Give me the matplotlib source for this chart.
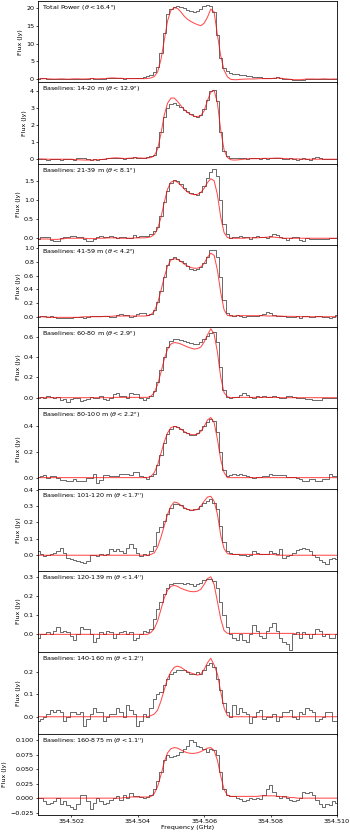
import numpy as np
import matplotlib
matplotlib.use("Agg")
import matplotlib.pyplot as plt
from matplotlib.ticker import MultipleLocator, ScalarFormatter

# Channel frequencies (GHz)
freq_start = 354.501
chan_width = 0.0001
n_chan = 91

labels = [
    r"Total Power ($\theta < 16.4^{\prime\prime}$)",
    r"Baselines: 14-20 m ($\theta < 12.9^{\prime\prime}$)",
    r"Baselines: 21-39 m ($\theta < 8.1^{\prime\prime}$)",
    r"Baselines: 41-59 m ($\theta < 4.2^{\prime\prime}$)",
    r"Baselines: 60-80 m ($\theta < 2.9^{\prime\prime}$)",
    r"Baselines: 80-100 m ($\theta < 2.2^{\prime\prime}$)",
    r"Baselines: 101-120 m ($\theta < 1.7^{\prime\prime}$)",
    r"Baselines: 120-139 m ($\theta < 1.4^{\prime\prime}$)",
    r"Baselines: 140-160 m ($\theta < 1.2^{\prime\prime}$)",
    r"Baselines: 160-875 m ($\theta < 1.1^{\prime\prime}$)",
]

tp_obs = [0.1, 0.2, 0.3, 0.1, 0.0, -0.1, 0.0, 0.1, 0.0, -0.1,
          0.0, 0.1, 0.0, -0.1, 0.0, 0.1, 0.2, 0.1, 0.0, 0.1,
          0.1, 0.2, 0.3, 0.4, 0.3, 0.2, 0.1, 0.2, 0.3, 0.2,
          0.3, 0.4, 0.6, 0.8, 1.2, 2.0, 3.5, 7.5, 13.0, 18.5,
          19.8, 20.5, 20.8, 20.5, 20.0, 19.6, 19.2, 19.0, 19.2, 19.8,
          20.6, 21.0, 20.6, 19.0, 12.5, 6.0, 3.0, 2.2, 1.8, 1.5,
          1.3, 1.1, 1.0, 0.9, 0.8, 0.7, 0.6, 0.5, 0.4, 0.3,
          0.3, 0.4, 0.5, 0.3, 0.1, 0.0, -0.1, -0.2, -0.3, -0.2,
          -0.3, -0.1, 0.0, 0.1, 0.0, -0.1, 0.0, 0.1, 0.0, -0.1, 0.0]
tp_mod = [0.0, 0.05, 0.1, 0.05, 0.0, -0.05, 0.0, 0.05, 0.0, -0.05,
          0.0, 0.05, 0.05, 0.0, 0.0, 0.05, 0.1, 0.1, 0.05, 0.1,
          0.1, 0.2, 0.3, 0.3, 0.2, 0.2, 0.1, 0.1, 0.1, 0.1,
          0.1, 0.1, 0.1, 0.15, 0.3, 0.7, 2.0, 5.5, 11.0, 16.5,
          19.5, 20.2, 20.0, 19.0, 17.8, 16.9, 16.3, 15.8, 15.4, 15.1,
          15.8, 17.5, 19.8, 19.0, 12.5, 6.5, 2.5, 0.6, -0.1, -0.2,
          -0.2, -0.1, -0.05, 0.0, 0.0, 0.0, 0.05, 0.1, 0.1, 0.1,
          0.1, 0.2, 0.3, 0.2, 0.1, 0.0, -0.1, -0.2, -0.2, -0.2,
          -0.1, 0.0, 0.0, 0.0, -0.05, 0.0, 0.05, 0.0, -0.05, 0.0, 0.0]

b14_obs = [0.0, 0.02, 0.0, -0.02, 0.0, 0.03, 0.0, -0.03, 0.02, 0.03,
           0.0, -0.02, 0.05, 0.08, 0.05, 0.0, -0.03, 0.0, -0.02, 0.0,
           0.03, 0.05, 0.08, 0.1, 0.07, 0.05, 0.03, 0.08, 0.1, 0.12,
           0.1, 0.08, 0.1, 0.15, 0.2, 0.25, 0.7, 1.6, 2.5, 3.0,
           3.25, 3.3, 3.2, 3.05, 2.9, 2.75, 2.65, 2.55, 2.5, 2.6,
           2.95, 3.5, 4.0, 4.05, 3.4, 1.6, 0.5, 0.2, 0.1, 0.08,
           0.05, 0.08, 0.05, 0.03, 0.05, 0.08, 0.05, 0.03, 0.05, 0.02,
           0.05, 0.08, 0.1, 0.05, 0.0, 0.03, 0.05, 0.0, -0.02, 0.03,
           0.05, 0.03, -0.05, 0.08, 0.12, 0.05, 0.0, 0.02, 0.03, 0.0, 0.02]
b14_mod = [0.02, 0.02, 0.01, 0.0, 0.0, 0.0, 0.0, 0.0, 0.0, 0.0,
           0.0, -0.02, -0.03, -0.04, -0.05, -0.05, -0.05, -0.04, -0.03, -0.02,
           0.0, 0.03, 0.06, 0.08, 0.08, 0.06, 0.04, 0.05, 0.07, 0.08,
           0.08, 0.07, 0.06, 0.07, 0.1, 0.2, 0.6, 1.5, 2.6, 3.3,
           3.6, 3.6, 3.4, 3.15, 2.92, 2.75, 2.62, 2.53, 2.5, 2.56,
           2.85, 3.45, 3.95, 4.05, 3.3, 1.7, 0.55, 0.1, -0.03, -0.05,
           -0.04, -0.02, 0.0, 0.02, 0.03, 0.03, 0.03, 0.04, 0.05, 0.05,
           0.05, 0.06, 0.07, 0.06, 0.04, 0.03, 0.02, 0.02, 0.02, 0.01,
           0.0, 0.0, 0.0, 0.0, 0.0, 0.0, 0.0, 0.0, 0.0, 0.0, 0.0]

b21_obs = [-0.02, 0.03, 0.04, 0.04, -0.04, -0.06, -0.08, 0.01, 0.03, 0.04,
           0.05, 0.05, 0.04, 0.04, -0.03, -0.06, -0.08, -0.03, 0.02, 0.05,
           0.03, 0.04, 0.05, 0.03, 0.0, 0.02, 0.03, 0.0, 0.01, 0.08,
           0.04, 0.05, 0.07, 0.06, 0.1, 0.18, 0.3, 0.6, 0.95, 1.25,
           1.45, 1.53, 1.5, 1.42, 1.33, 1.26, 1.2, 1.16, 1.15, 1.22,
           1.38, 1.58, 1.75, 1.82, 1.65, 1.0, 0.38, 0.1, 0.01, 0.02,
           0.03, 0.05, 0.04, 0.03, -0.01, 0.02, 0.05, 0.03, 0.02, 0.0,
           0.05, 0.12, 0.08, 0.02, 0.0, -0.04, 0.0, 0.02, 0.03, -0.05,
           -0.08, 0.0, -0.01, -0.01, -0.02, -0.02, -0.01, -0.01, 0.0, 0.0, 0.01]
b21_mod = [-0.02, -0.02, -0.02, -0.02, -0.03, -0.03, -0.03, -0.02, -0.01, 0.0,
           0.0, 0.0, 0.0, 0.0, 0.0, -0.01, -0.01, -0.01, 0.0, 0.0,
           0.0, 0.01, 0.01, 0.01, 0.0, 0.0, 0.0, 0.0, 0.0, 0.01,
           0.01, 0.01, 0.01, 0.02, 0.04, 0.1, 0.25, 0.55, 0.95, 1.3,
           1.48, 1.52, 1.48, 1.4, 1.3, 1.22, 1.17, 1.15, 1.16, 1.21,
           1.32, 1.47, 1.57, 1.52, 1.15, 0.55, 0.15, 0.02, 0.0, 0.0,
           0.0, 0.0, 0.0, 0.01, 0.01, 0.01, 0.01, 0.02, 0.02, 0.03,
           0.03, 0.03, 0.02, 0.01, 0.0, 0.0, 0.0, 0.0, 0.0, 0.0,
           0.0, 0.0, 0.0, 0.0, 0.0, 0.0, 0.0, 0.0, 0.0, 0.0, 0.0]

b41_obs = [0.0, 0.015, 0.01, -0.01, 0.015, 0.0, -0.02, -0.015, -0.015, -0.02,
           -0.025, -0.01, -0.01, -0.01, -0.015, 0.0, 0.005, 0.015, 0.01, 0.005,
           0.01, 0.005, -0.005, 0.0, 0.02, 0.035, 0.03, 0.03, 0.0, 0.01,
           0.035, 0.05, 0.06, 0.025, 0.04, 0.1, 0.22, 0.38, 0.58, 0.76,
           0.85, 0.87, 0.85, 0.81, 0.78, 0.74, 0.7, 0.69, 0.7, 0.73,
           0.79, 0.88, 0.97, 0.98, 0.88, 0.58, 0.24, 0.05, 0.02, 0.005,
           0.025, 0.01, 0.0, 0.005, 0.01, 0.01, 0.005, 0.03, 0.04, 0.07,
           0.05, 0.03, 0.01, 0.005, 0.005, -0.005, -0.01, 0.0, 0.01, -0.015,
           0.005, 0.01, -0.01, 0.0, 0.01, 0.005, -0.005, -0.01, -0.015, 0.0, 0.025]
b41_mod = [0.0, 0.0, -0.005, -0.005, -0.01, -0.01, -0.01, -0.01, -0.01, -0.01,
           -0.01, -0.01, -0.01, -0.005, 0.0, 0.0, 0.0, 0.0, 0.0, 0.0,
           0.005, 0.005, 0.005, 0.01, 0.01, 0.01, 0.01, 0.01, 0.01, 0.01,
           0.01, 0.01, 0.01, 0.015, 0.03, 0.08, 0.2, 0.38, 0.58, 0.74,
           0.83, 0.85, 0.84, 0.81, 0.77, 0.74, 0.72, 0.71, 0.71, 0.73,
           0.78, 0.87, 0.93, 0.9, 0.68, 0.35, 0.1, 0.02, 0.01, 0.01,
           0.015, 0.015, 0.015, 0.015, 0.015, 0.015, 0.015, 0.015, 0.015, 0.01,
           0.01, 0.01, 0.01, 0.01, 0.005, 0.005, 0.005, 0.005, 0.0, 0.0,
           0.0, 0.0, 0.0, 0.0, 0.0, 0.0, 0.0, 0.0, 0.0, 0.0, 0.0]

b60_obs = [0.0, 0.005, 0.0, 0.013, 0.005, 0.0, 0.005, -0.02, -0.01, -0.043,
           -0.01, 0.0, 0.0, -0.036, -0.02, -0.01, 0.005, 0.0, 0.0, 0.013,
           -0.01, -0.026, 0.0, 0.04, 0.05, 0.02, 0.013, 0.0, 0.05, 0.033,
           0.033, 0.0, -0.02, 0.0, 0.02, 0.07, 0.15, 0.27, 0.4, 0.5,
           0.56, 0.58, 0.575, 0.565, 0.555, 0.545, 0.54, 0.53, 0.535, 0.55,
           0.58, 0.61, 0.64, 0.65, 0.55, 0.3, 0.08, 0.01, 0.0, 0.005,
           0.01, 0.023, 0.046, 0.03, 0.01, 0.0, 0.013, 0.01, 0.013, 0.005,
           0.005, 0.013, 0.005, 0.0, 0.0, 0.013, 0.013, 0.005, 0.0, -0.005,
           0.0, -0.01, -0.01, -0.026, -0.02, -0.02, -0.008, -0.005, 0.0, 0.0, 0.0]
b60_mod = [0.0, 0.0, 0.0, 0.0, 0.0, 0.0, 0.0, 0.0, 0.0, 0.0,
           0.0, 0.0, 0.0, 0.0, 0.0, 0.0, 0.0, 0.0, 0.0, 0.0,
           0.0, 0.0, 0.0, 0.003, 0.003, 0.003, 0.003, 0.003, 0.003, 0.003,
           0.003, 0.003, 0.003, 0.003, 0.015, 0.05, 0.13, 0.25, 0.38, 0.48,
           0.53, 0.545, 0.54, 0.53, 0.515, 0.5, 0.49, 0.48, 0.485, 0.5,
           0.55, 0.62, 0.68, 0.63, 0.45, 0.2, 0.05, 0.01, 0.0, 0.0,
           0.003, 0.003, 0.003, 0.003, 0.003, 0.003, 0.003, 0.003, 0.003, 0.003,
           0.003, 0.003, 0.003, 0.0, 0.0, 0.0, 0.0, 0.0, 0.0, 0.0,
           0.0, 0.0, 0.0, 0.0, 0.0, 0.0, 0.0, 0.0, 0.0, 0.0, 0.0]

b80_obs = [0.005, 0.013, 0.02, 0.0, 0.013, 0.013, 0.0, -0.018, -0.018, -0.03,
           -0.03, -0.013, -0.026, -0.03, -0.03, 0.0, 0.0, 0.026, -0.04, -0.015,
           0.018, 0.018, 0.016, 0.013, 0.013, 0.03, 0.03, 0.03, 0.02, 0.047,
           0.047, 0.013, 0.005, -0.013, 0.01, 0.03, 0.1, 0.18, 0.27, 0.34,
           0.38, 0.4, 0.395, 0.38, 0.36, 0.345, 0.33, 0.335, 0.35, 0.37,
           0.4, 0.435, 0.455, 0.44, 0.36, 0.2, 0.06, 0.01, 0.02, 0.026,
           0.02, 0.026, 0.02, 0.013, 0.005, 0.0, 0.005, 0.005, 0.013, 0.013,
           0.026, 0.02, 0.02, 0.02, 0.02, 0.005, 0.005, 0.005, 0.0, -0.01,
           -0.026, -0.026, -0.013, -0.013, -0.026, -0.026, -0.013, -0.013, 0.026, 0.013, 0.013]
b80_mod = [0.0, 0.0, 0.0, 0.0, 0.0, 0.0, 0.0, 0.0, 0.0, 0.0,
           0.0, 0.0, 0.0, 0.0, 0.0, 0.0, 0.0, 0.0, 0.0, 0.0,
           0.0, 0.0, 0.0, 0.0, 0.0, 0.0, 0.0, 0.0, 0.0, 0.0,
           0.0, 0.0, 0.0, 0.0, 0.01, 0.04, 0.1, 0.19, 0.28, 0.35,
           0.39, 0.4, 0.395, 0.38, 0.36, 0.345, 0.337, 0.335, 0.34, 0.36,
           0.4, 0.45, 0.47, 0.43, 0.3, 0.14, 0.04, 0.0, 0.0, 0.0,
           0.0, 0.0, 0.0, 0.0, 0.0, 0.0, 0.0, 0.0, 0.0, 0.0,
           0.0, 0.0, 0.0, 0.0, 0.0, 0.0, 0.0, 0.0, 0.0, 0.0,
           0.0, 0.0, 0.0, 0.0, 0.0, 0.0, 0.0, 0.0, 0.0, 0.0, 0.0]

b101_obs = [0.027, 0.01, -0.004, 0.0, 0.005, 0.016, 0.027, 0.047, 0.016, -0.014,
            -0.02, -0.03, -0.035, -0.04, -0.05, -0.035, 0.0, 0.0, -0.004, 0.006,
            0.0, 0.01, 0.04, 0.027, 0.037, 0.027, 0.016, 0.047, 0.067, 0.047,
            0.016, -0.004, 0.006, 0.0, 0.027, 0.057, 0.14, 0.17, 0.21, 0.25,
            0.29, 0.31, 0.31, 0.305, 0.29, 0.28, 0.275, 0.28, 0.285, 0.3,
            0.32, 0.33, 0.345, 0.32, 0.28, 0.18, 0.08, 0.027, 0.016, 0.01,
            0.006, 0.0, 0.0, -0.004, 0.0, 0.027, 0.016, 0.006, 0.01, 0.01,
            0.027, 0.016, 0.01, 0.037, -0.014, -0.004, 0.0, 0.016, 0.03, 0.037,
            0.047, 0.037, 0.027, 0.0, -0.01, -0.03, -0.04, -0.055, -0.024, -0.014, -0.02]
b101_mod = [0.0, 0.0, 0.0, 0.0, 0.0, 0.0, 0.0, 0.0, 0.0, 0.0,
            0.0, 0.0, 0.0, 0.0, 0.0, 0.0, 0.0, 0.0, 0.0, 0.0,
            0.0, 0.0, 0.0, 0.0, 0.0, 0.0, 0.0, 0.0, 0.0, 0.0,
            0.0, 0.0, 0.0, 0.0, 0.005, 0.015, 0.05, 0.11, 0.18, 0.25,
            0.3, 0.325, 0.32, 0.305, 0.29, 0.28, 0.275, 0.275, 0.28, 0.3,
            0.33, 0.355, 0.36, 0.33, 0.25, 0.12, 0.04, 0.01, 0.005, 0.005,
            0.005, 0.005, 0.005, 0.005, 0.005, 0.005, 0.005, 0.005, 0.005, 0.005,
            0.005, 0.005, 0.0, 0.0, 0.0, 0.0, 0.0, 0.0, 0.0, 0.0,
            0.0, 0.0, 0.0, 0.0, 0.0, 0.0, 0.0, 0.0, 0.0, 0.0, 0.0]

b120_obs = [-0.02, 0.0, 0.0, 0.01, 0.0, 0.02, 0.04, 0.01, 0.02, 0.01,
            -0.01, -0.03, 0.0, 0.04, 0.03, 0.03, 0.0, -0.04, -0.02, 0.01,
            0.0, 0.02, 0.01, -0.02, 0.0, 0.01, 0.02, 0.0, 0.01, -0.03,
            -0.02, 0.0, 0.02, 0.01, 0.03, 0.08, 0.13, 0.17, 0.21, 0.24,
            0.26, 0.27, 0.265, 0.27, 0.26, 0.27, 0.26, 0.25, 0.26, 0.27,
            0.285, 0.29, 0.29, 0.28, 0.24, 0.17, 0.1, 0.04, 0.0, -0.02,
            -0.03, 0.0, -0.03, -0.04, 0.0, 0.05, 0.02, -0.01, -0.02, 0.02,
            0.04, 0.06, 0.02, -0.02, -0.04, -0.05, -0.08, 0.0, 0.01, -0.02,
            0.01, 0.0, -0.02, 0.0, 0.03, 0.02, -0.01, 0.0, -0.02, -0.02, 0.0]
b120_mod = [0.0, 0.0, 0.0, 0.0, 0.0, 0.0, 0.0, 0.0, 0.0, 0.0,
            0.0, 0.0, 0.0, 0.0, 0.0, 0.0, 0.0, 0.0, 0.0, 0.0,
            0.0, 0.0, 0.0, 0.0, 0.0, 0.0, 0.0, 0.0, 0.0, 0.0,
            0.0, 0.0, 0.0, 0.0, 0.01, 0.03, 0.07, 0.13, 0.19, 0.23,
            0.25, 0.255, 0.25, 0.24, 0.233, 0.227, 0.223, 0.222, 0.225, 0.235,
            0.26, 0.29, 0.3, 0.26, 0.17, 0.08, 0.02, 0.005, 0.005, 0.005,
            0.005, 0.005, 0.005, 0.005, 0.005, 0.005, 0.005, 0.005, 0.005, 0.005,
            0.005, 0.005, 0.005, 0.005, 0.005, 0.005, 0.005, 0.005, 0.0, 0.0,
            0.0, 0.0, 0.0, 0.0, 0.0, 0.0, 0.0, 0.0, 0.0, 0.0, 0.0]

b140_obs = [-0.02, -0.01, 0.0, 0.01, 0.03, 0.02, 0.03, 0.02, -0.02, 0.0,
            0.02, 0.02, 0.01, 0.02, -0.04, -0.01, 0.01, 0.04, 0.02, 0.02,
            -0.02, 0.0, 0.01, 0.01, 0.04, 0.02, 0.0, 0.05, 0.03, 0.01,
            -0.04, -0.02, 0.01, 0.0, 0.04, 0.08, 0.1, 0.11, 0.14, 0.17,
            0.19, 0.2, 0.21, 0.21, 0.21, 0.2, 0.19, 0.19, 0.2, 0.19,
            0.21, 0.23, 0.24, 0.22, 0.17, 0.12, 0.06, 0.02, 0.0, 0.05,
            0.01, 0.04, 0.02, 0.01, -0.03, 0.0, 0.02, 0.03, -0.01, 0.0,
            0.0, 0.01, -0.02, 0.0, 0.02, 0.02, 0.03, 0.0, -0.01, 0.02,
            0.01, 0.04, 0.03, 0.02, -0.02, -0.01, 0.0, 0.02, 0.02, -0.02, -0.02]
b140_mod = [0.0, 0.0, 0.0, 0.0, 0.0, 0.0, 0.0, 0.0, 0.0, 0.0,
            0.0, 0.0, 0.0, 0.0, 0.0, 0.0, 0.0, 0.0, 0.0, 0.0,
            0.0, 0.0, 0.0, 0.0, 0.0, 0.0, 0.0, 0.0, 0.0, 0.0,
            0.0, 0.0, 0.0, 0.0, 0.005, 0.012, 0.03, 0.07, 0.12, 0.17,
            0.2, 0.22, 0.225, 0.22, 0.21, 0.2, 0.195, 0.19, 0.185, 0.19,
            0.21, 0.24, 0.26, 0.23, 0.19, 0.11, 0.04, 0.005, 0.0, 0.0,
            0.0, 0.0, 0.0, 0.0, 0.0, 0.0, 0.0, 0.0, 0.0, 0.0,
            0.0, 0.0, 0.0, 0.0, 0.0, 0.0, 0.0, 0.0, 0.0, 0.0,
            0.0, 0.0, 0.0, 0.0, 0.0, 0.0, 0.0, 0.0, 0.0, 0.0, 0.0]

b160_obs = [0.0, 0.0, -0.005, -0.01, -0.008, -0.005, 0.0, -0.01, -0.005, -0.012,
            -0.015, -0.018, -0.01, 0.005, 0.005, -0.005, -0.018, -0.008, 0.0, -0.005,
            -0.01, -0.008, -0.003, 0.0, 0.003, -0.003, 0.005, 0.0, 0.008, 0.003,
            0.003, 0.002, 0.0, 0.002, 0.005, 0.015, 0.03, 0.045, 0.065, 0.075,
            0.07, 0.073, 0.075, 0.08, 0.085, 0.09, 0.1, 0.096, 0.09, 0.088,
            0.085, 0.08, 0.085, 0.083, 0.075, 0.045, 0.015, 0.005, 0.003, 0.003,
            0.0, -0.002, -0.005, -0.003, 0.0, -0.002, 0.0, -0.002, 0.005, 0.015,
            0.022, 0.01, 0.003, 0.0, 0.003, 0.0, -0.003, -0.005, -0.003, 0.0,
            0.01, 0.008, 0.01, 0.005, -0.003, -0.01, -0.015, -0.01, -0.012, -0.005, -0.008]
b160_mod = [0.0, 0.0, 0.0, 0.0, 0.0, 0.0, 0.0, 0.0, 0.0, 0.0,
            0.0, 0.0, 0.0, 0.0, 0.0, 0.0, 0.0, 0.0, 0.0, 0.0,
            0.0, 0.0, 0.0, 0.0, 0.0, 0.0, 0.001, 0.001, 0.002, 0.002,
            0.002, 0.002, 0.002, 0.002, 0.003, 0.008, 0.02, 0.04, 0.062, 0.078,
            0.085, 0.087, 0.086, 0.083, 0.08, 0.078, 0.077, 0.077, 0.078, 0.08,
            0.083, 0.086, 0.087, 0.082, 0.065, 0.038, 0.015, 0.005, 0.003, 0.003,
            0.003, 0.003, 0.003, 0.003, 0.003, 0.003, 0.003, 0.004, 0.004, 0.004,
            0.004, 0.004, 0.003, 0.003, 0.002, 0.002, 0.001, 0.001, 0.0, 0.0,
            0.0, 0.0, 0.0, 0.0, 0.0, 0.0, 0.0, 0.0, 0.0, 0.0, 0.0]

observed = [tp_obs, b14_obs, b21_obs, b41_obs, b60_obs, b80_obs,
            b101_obs, b120_obs, b140_obs, b160_obs]
models = [tp_mod, b14_mod, b21_mod, b41_mod, b60_mod, b80_mod,
          b101_mod, b120_mod, b140_mod, b160_mod]

# axis limits / tick steps (layout)
ylims = [(-0.97, 22.1), (-0.27, 4.52), (-0.184, 1.966), (-0.145, 1.047),
         (-0.102, 0.702), (-0.092, 0.544), (-0.095, 0.402), (-0.093, 0.331),
         (-0.075, 0.287), (-0.029, 0.111)]
ysteps = [5, 1, 0.5, 0.2, 0.2, 0.2, 0.1, 0.1, 0.1, 0.025]
xticks = [354.502, 354.504, 354.506, 354.508, 354.510]
xticklabels = ['354.502', '354.504', '354.506', '354.508', '354.510']

freq = freq_start + chan_width * np.arange(n_chan)

plt.rcParams['font.family'] = ['DejaVu Sans']
fs = 4.6

fig, axes = plt.subplots(10, 1, figsize=(3.5, 8.33), dpi=100, sharex=True)
fig.subplots_adjust(left=0.1086, right=0.963, top=0.9988, bottom=0.0216, hspace=0)

for k, ax in enumerate(axes):
    ax.step(freq, observed[k], where='mid', color='#333333', lw=0.6, alpha=0.85)
    ax.plot(freq, models[k], color='red', lw=0.75, alpha=0.7)
    ax.set_xlim(354.501, 354.510)
    ax.set_ylim(*ylims[k])
    ax.yaxis.set_major_locator(MultipleLocator(ysteps[k]))
    ax.set_xticks(xticks)
    ax.tick_params(labelsize=fs, length=1.6, width=0.5, pad=1.2)
    for s in ax.spines.values():
        s.set_linewidth(0.6)
    ax.set_ylabel('Flux (Jy)', fontsize=fs, labelpad=2.5)
    ax.text(0.012, 0.975, labels[k], transform=ax.transAxes, ha='left', va='top',
            fontsize=fs)

axes[-1].set_xticklabels(xticklabels)
axes[-1].set_xlabel('Frequency (GHz)', fontsize=fs, labelpad=1.0)

fig.savefig('out.png', dpi=100)
